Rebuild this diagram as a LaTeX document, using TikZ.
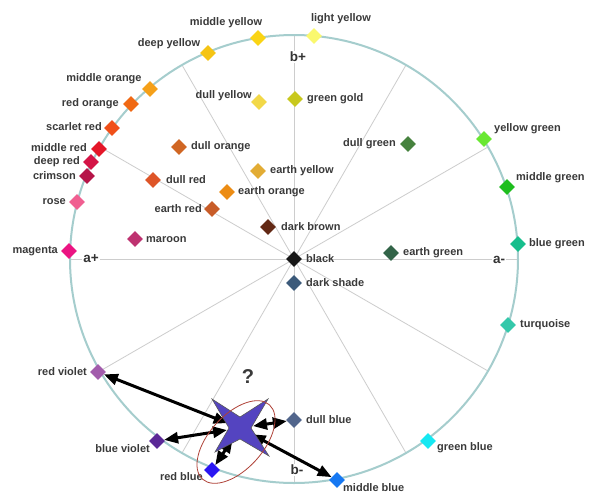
\documentclass[tikz,border=0pt]{standalone}
\usepackage{fontspec}
\setmainfont{Liberation Sans}
\usetikzlibrary{shapes.geometric,arrows.meta}
\definecolor{lblgray}{RGB}{58,58,58}
\definecolor{ringc}{RGB}{165,205,205}
\definecolor{spoke}{RGB}{205,205,205}
\definecolor{cMY}{RGB}{250,212,20}
\definecolor{cLY}{RGB}{250,248,110}
\definecolor{cDY}{RGB}{245,196,20}
\definecolor{cMO}{RGB}{245,160,25}
\definecolor{cRO}{RGB}{240,105,20}
\definecolor{cSR}{RGB}{240,80,25}
\definecolor{cMR}{RGB}{228,22,40}
\definecolor{cDR}{RGB}{212,20,70}
\definecolor{cCR}{RGB}{182,20,72}
\definecolor{cRS}{RGB}{240,95,145}
\definecolor{cMG}{RGB}{235,20,130}
\definecolor{cMA}{RGB}{190,50,112}
\definecolor{cDO}{RGB}{208,102,35}
\definecolor{cDRd}{RGB}{222,85,40}
\definecolor{cER}{RGB}{200,92,40}
\definecolor{cEO}{RGB}{236,140,20}
\definecolor{cEY}{RGB}{226,172,52}
\definecolor{cDYl}{RGB}{242,216,72}
\definecolor{cGG}{RGB}{200,200,30}
\definecolor{cDB}{RGB}{98,40,20}
\definecolor{cBK}{RGB}{22,22,22}
\definecolor{cDS}{RGB}{60,90,122}
\definecolor{cDG}{RGB}{70,130,62}
\definecolor{cYG}{RGB}{105,232,50}
\definecolor{cMGr}{RGB}{30,190,30}
\definecolor{cBG}{RGB}{22,190,140}
\definecolor{cEG}{RGB}{50,100,72}
\definecolor{cTQ}{RGB}{52,200,170}
\definecolor{cGB}{RGB}{22,232,242}
\definecolor{cMB}{RGB}{22,120,242}
\definecolor{cDBl}{RGB}{82,102,140}
\definecolor{cRB}{RGB}{42,22,242}
\definecolor{cBV}{RGB}{90,40,150}
\definecolor{cRV}{RGB}{162,92,172}
\definecolor{starc}{RGB}{84,68,192}
\definecolor{ellc}{RGB}{175,65,55}
\tikzset{
  dia/.style={diamond, aspect=1, inner sep=0pt, minimum width=16pt, minimum height=16pt, fill=#1, draw=none},
  lbl/.style={font=\fontsize{11}{13}\selectfont\bfseries, text=lblgray, inner sep=0pt},
  axl/.style={font=\fontsize{13.5}{15}\selectfont\bfseries, text=black!80, fill=white, inner sep=1pt},
  spk/.style={draw=spoke, line width=0.8pt},
  arr/.style={{Triangle[length=14pt,width=11pt]}-{Triangle[length=14pt,width=11pt]}, line width=3pt, black},
}
\begin{document}
\begin{tikzpicture}[x=1pt,y=-1pt]
\useasboundingbox[fill=white] (0,0) rectangle (589,493);
\coordinate (o) at (294,259);
% spokes
\foreach \a in {0,30,...,330}{
  \draw[spk] (o) -- ++(\a:224);
}
% ring
\draw[ringc, line width=2pt] (o) circle[radius=224];
% axis labels
\node[axl] (ap) at (91,259) {a+};
\node[axl] (am) at (499,260) {a-};
\node[axl] (bp) at (298,57) {b+};
\node[axl] (bm) at (297,470) {b-};
% diamonds
\node[dia=cMY] (my) at (258,38) {};
\node[dia=cLY] (ly) at (314,36) {};
\node[dia=cDY] (dy) at (208,53) {};
\node[dia=cMO] (mo) at (150,89) {};
\node[dia=cRO] (ro) at (131,104) {};
\node[dia=cSR] (sr) at (112,128) {};
\node[dia=cMR] (mr) at (99,149) {};
\node[dia=cDR] (dr) at (91,162) {};
\node[dia=cCR] (cr) at (87,176) {};
\node[dia=cRS] (rs) at (77,202) {};
\node[dia=cMG] (mg) at (69,251) {};
\node[dia=cMA] (ma) at (135,239) {};
\node[dia=cDO] (do) at (179,147) {};
\node[dia=cDRd] (dre) at (153,180) {};
\node[dia=cER] (er) at (212,209) {};
\node[dia=cEO] (eo) at (227,192) {};
\node[dia=cEY] (ey) at (258,171) {};
\node[dia=cDYl] (dyl) at (259,102) {};
\node[dia=cGG] (gg) at (295,99) {};
\node[dia=cDB] (db) at (268,227) {};
\node[dia=cBK] (bk) at (294,259) {};
\node[dia=cDS] (ds) at (294,283) {};
\node[dia=cDG] (dg) at (408,144) {};
\node[dia=cYG] (yg) at (484,139) {};
\node[dia=cMGr] (mgr) at (507,187) {};
\node[dia=cBG] (bg) at (518,244) {};
\node[dia=cEG] (eg) at (391,253) {};
\node[dia=cTQ] (tq) at (508,325) {};
\node[dia=cGB] (gb) at (428,441) {};
\node[dia=cMB] (mb) at (337,480) {};
\node[dia=cDBl] (dbl) at (294,420) {};
\node[dia=cRB] (rb) at (212,470) {};
\node[dia=cBV] (bv) at (157,441) {};
\node[dia=cRV] (rv) at (98,372) {};
% labels
\node[lbl] (tmy) at (226,23) {middle yellow};
\node[lbl] (tly) at (341,19) {light yellow};
\node[lbl] (tdy) at (169,44) {deep yellow};
\node[lbl] (tmo) at (104,79) {middle orange};
\node[lbl,anchor=east] (tro) at (119,104) {red orange};
\node[lbl,anchor=east] (tsr) at (102,127) {scarlet red};
\node[lbl,anchor=east] (tmr) at (87,148) {middle red};
\node[lbl,anchor=east] (tdr) at (80,162) {deep red};
\node[lbl,anchor=east] (tcr) at (76,176) {crimson};
\node[lbl,anchor=east] (trs) at (66,202) {rose};
\node[lbl,anchor=east] (tmg) at (58,251) {magenta};
\node[lbl,anchor=west] (tma) at (146,240) {maroon};
\node[lbl,anchor=west] (tdo) at (191,147) {dull orange};
\node[lbl,anchor=west] (tdre) at (166,180) {dull red};
\node[lbl,anchor=east] (ter) at (202,209) {earth red};
\node[lbl,anchor=west] (teo) at (238,192) {earth orange};
\node[lbl,anchor=west] (tey) at (270,171) {earth yellow};
\node[lbl,anchor=east] (tdyl) at (252,96) {dull yellow};
\node[lbl,anchor=west] (tgg) at (307,99) {green gold};
\node[lbl,anchor=west] (tdb) at (281,227) {dark brown};
\node[lbl,anchor=west] (tbk) at (306,259) {black};
\node[lbl,anchor=west] (tds) at (306,283) {dark shade};
\node[lbl,anchor=east] (tdg) at (396,144) {dull green};
\node[lbl,anchor=west] (tyg) at (494,129) {yellow green};
\node[lbl,anchor=west] (tmgr) at (516,178) {middle green};
\node[lbl,anchor=west] (tbg) at (529,244) {blue green};
\node[lbl,anchor=west] (teg) at (403,253) {earth green};
\node[lbl,anchor=west] (ttq) at (520,325) {turquoise};
\node[lbl,anchor=west] (tgb) at (437,448) {green blue};
\node[lbl,anchor=west] (tmb) at (343,488) {middle blue};
\node[lbl,anchor=west] (tdbl) at (306,420) {dull blue};
\node[lbl,anchor=east] (trb) at (203,477) {red blue};
\node[lbl,anchor=east] (tbv) at (150,449) {blue violet};
\node[lbl,anchor=east] (trv) at (87,372) {red violet};
\node[font=\fontsize{20}{24}\selectfont\bfseries, text=lblgray, inner sep=0pt] (q) at (248,377) {?};
% star and arrows
\node[circle, minimum size=26pt, inner sep=0pt] (sc) at (240,428) {};
\draw[arr] (sc) -- (rv);
\draw[arr] (sc) -- (bv);
\draw[arr] (sc) -- (rb);
\draw[arr] (sc) -- (dbl);
\draw[arr] (sc) -- (mb);
\draw[fill=starc, draw=black!65, line width=0.6pt]
  (212,399) -- (240,417) -- (268,399) -- (251,428) -- (269,456)
  -- (240,439) -- (215,452) -- (229,428) -- cycle;
\draw[ellc, line width=0.8pt, rotate around={48:(236,442)}] (236,442) ellipse[x radius=50, y radius=27];
\end{tikzpicture}
\end{document}
